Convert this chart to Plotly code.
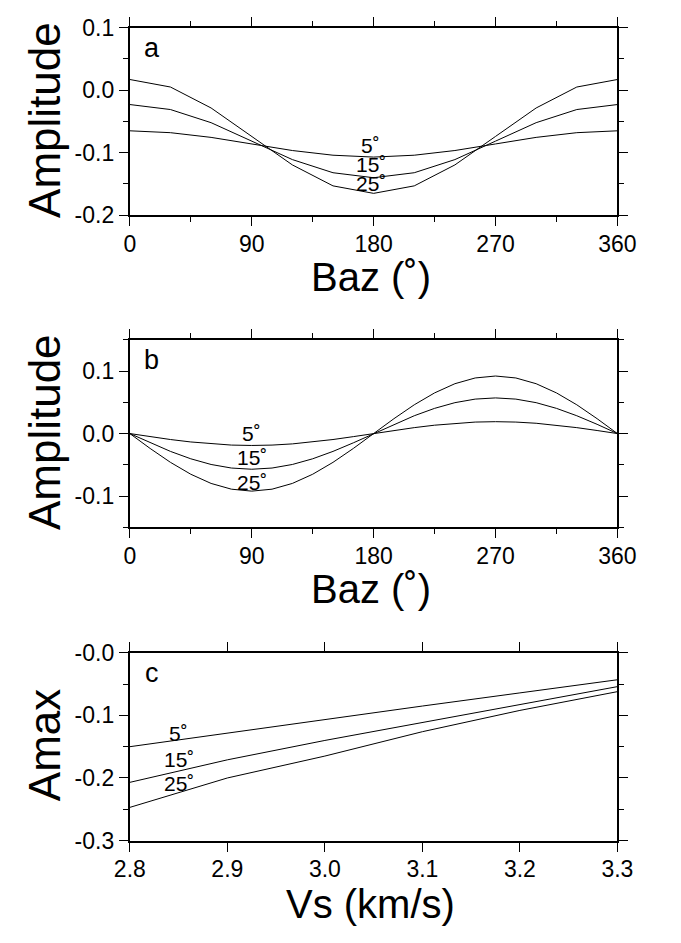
import plotly.graph_objects as go

# ---- data -------------------------------------------------------------
baz_a = [0, 30, 60, 90, 120, 150, 180, 210, 240, 270, 300, 330, 360]
amp_a_5 = [-0.065, -0.068, -0.0755, -0.086, -0.0965, -0.104, -0.107, -0.104, -0.0965, -0.086, -0.0755, -0.068, -0.065]
amp_a_15 = [-0.023, -0.031, -0.052, -0.0815, -0.111, -0.132, -0.140, -0.132, -0.111, -0.0815, -0.052, -0.031, -0.023]
amp_a_25 = [0.017, 0.005, -0.0285, -0.074, -0.1195, -0.153, -0.165, -0.153, -0.1195, -0.074, -0.0285, 0.005, 0.017]

baz_b = [0, 15, 30, 45, 60, 75, 90, 105, 120, 135, 150, 165, 180,
         195, 210, 225, 240, 255, 270, 285, 300, 315, 330, 345, 360]
amp_b_5 = [0, -0.0049, -0.0095, -0.0134, -0.0165, -0.0184, -0.019, -0.0184, -0.0165, -0.0134, -0.0095, -0.0049, 0,
           0.0049, 0.0095, 0.0134, 0.0165, 0.0184, 0.019, 0.0184, 0.0165, 0.0134, 0.0095, 0.0049, 0]
amp_b_15 = [0, -0.0148, -0.0285, -0.0403, -0.0494, -0.0551, -0.057, -0.0551, -0.0494, -0.0403, -0.0285, -0.0148, 0,
            0.0148, 0.0285, 0.0403, 0.0494, 0.0551, 0.057, 0.0551, 0.0494, 0.0403, 0.0285, 0.0148, 0]
amp_b_25 = [0, -0.0238, -0.046, -0.065, -0.0797, -0.0889, -0.092, -0.0889, -0.0797, -0.065, -0.046, -0.0238, 0,
            0.0238, 0.046, 0.065, 0.0797, 0.0889, 0.092, 0.0889, 0.0797, 0.065, 0.046, 0.0238, 0]

vs_c = [2.8, 2.9, 3.0, 3.1, 3.2, 3.3]
amax_5 = [-0.150, -0.128, -0.107, -0.085, -0.064, -0.043]
amax_15 = [-0.207, -0.171, -0.140, -0.111, -0.082, -0.054]
amax_25 = [-0.247, -0.200, -0.165, -0.126, -0.092, -0.062]

incidence_labels = ["5˚", "15˚", "25˚"]

baz_ticks = [0, 90, 180, 270, 360]
baz_ticktext = ["0", "90", "180", "270", "360"]
amp_a_ticks = [0.1, 0.0, -0.1, -0.2]
amp_a_ticktext = ["0.1", "0.0", "-0.1", "-0.2"]
amp_b_ticks = [0.1, 0.0, -0.1]
amp_b_ticktext = ["0.1", "0.0", "-0.1"]
vs_ticks = [2.8, 2.9, 3.0, 3.1, 3.2, 3.3]
vs_ticktext = ["2.8", "2.9", "3.0", "3.1", "3.2", "3.3"]
amax_ticks = [0.0, -0.1, -0.2, -0.3]
amax_ticktext = ["-0.0", "-0.1", "-0.2", "-0.3"]

# ---- page geometry (pixels) --------------------------------------------
W, H = 681, 943
FONT = "Liberation Sans, Arial, Helvetica, sans-serif"
LEFT, RIGHT = 120, 634
panels = [(15, 208), (336, 529), (658, 851)]


def px(x):
    return x / W


def py(y):
    return 1 - y / H


fig = go.Figure()
line = dict(color="black", width=1)

series = [
    ("x", "y", baz_a, [amp_a_5, amp_a_15, amp_a_25]),
    ("x2", "y2", baz_b, [amp_b_5, amp_b_15, amp_b_25]),
    ("x3", "y3", vs_c, [amax_5, amax_15, amax_25]),
]
for xa, ya, xs, ys_list in series:
    for ys in ys_list:
        fig.add_trace(go.Scatter(x=xs, y=ys, mode="lines", line=line,
                                 xaxis=xa, yaxis=ya, showlegend=False,
                                 hoverinfo="skip"))

tickfont = dict(family=FONT, size=23, color="black")


def minor(step):
    return dict(ticks="outside", ticklen=4.5, dtick=step, tick0=0,
                tickcolor="black", tickwidth=1)


def axis_style(**kw):
    base = dict(showline=True, linecolor="black", linewidth=2, mirror="allticks",
                ticks="outside", ticklen=9, tickwidth=1.3, tickcolor="black",
                showgrid=False, zeroline=False, tickfont=tickfont,
                fixedrange=True)
    base.update(kw)
    return base


dom_x = [px(LEFT), px(RIGHT)]
layout = dict(
    width=W, height=H, margin=dict(l=0, r=0, t=0, b=0),
    paper_bgcolor="white", plot_bgcolor="white",
    xaxis=axis_style(domain=dom_x, anchor="y", range=[0, 360], ticklabelstandoff=-2,
                     tickvals=baz_ticks, ticktext=baz_ticktext, minor=minor(45)),
    yaxis=axis_style(domain=[py(panels[0][1]), py(panels[0][0])], anchor="x", range=[-0.2, 0.1],
                     tickvals=amp_a_ticks, ticktext=amp_a_ticktext, minor=minor(0.05)),
    xaxis2=axis_style(domain=dom_x, anchor="y2", range=[0, 360], ticklabelstandoff=-2,
                      tickvals=baz_ticks, ticktext=baz_ticktext, minor=minor(45)),
    yaxis2=axis_style(domain=[py(panels[1][1]), py(panels[1][0])], anchor="x2", range=[-0.15, 0.15],
                      tickvals=amp_b_ticks, ticktext=amp_b_ticktext, minor=minor(0.05)),
    xaxis3=axis_style(domain=dom_x, anchor="y3", range=[2.8, 3.3], ticklabelstandoff=-2,
                      tickvals=vs_ticks, ticktext=vs_ticktext),
    yaxis3=axis_style(domain=[py(panels[2][1]), py(panels[2][0])], anchor="x3", range=[-0.3, 0.0],
                      tickvals=amax_ticks, ticktext=amax_ticktext, minor=minor(0.05)),
)
fig.update_layout(**layout)

ann = []
big = dict(family=FONT, size=40, color="black")
ylabel_font = dict(family=FONT, size=44, color="black")
small = dict(family=FONT, size=21, color="black")
letter_font = dict(family=FONT, size=27, color="black")

ytitles = ["Amplitude", "Amplitude", "Amax"]
xtitles = ["Baz (˚)", "Baz (˚)", "Vs (km/s)"]
title_gap = [39, 39, 41]
letters = ["a", "b", "c"]
for i, (top, bot) in enumerate(panels):
    ann.append(dict(text=ytitles[i], x=px(30), y=py((top + bot) / 2 - 2), xref="paper", yref="paper",
                    textangle=-90, showarrow=False, font=ylabel_font,
                    xanchor="center", yanchor="middle"))
    ann.append(dict(text=xtitles[i], x=px((LEFT + RIGHT) / 2 - 3), y=py(bot + title_gap[i]),
                    xref="paper", yref="paper",
                    showarrow=False, font=big, xanchor="center", yanchor="top"))
    ann.append(dict(text=letters[i], x=px(LEFT + 23), y=py(top + 21), xref="paper", yref="paper",
                    showarrow=False, font=letter_font, xanchor="center", yanchor="middle"))

# curve labels (data coordinates)
label_pos = [
    ("x", "y", [(178, -0.088), (178, -0.119), (178, -0.149)]),
    ("x2", "y2", [(90, 0.0), (90, -0.039), (90, -0.079)]),
    ("x3", "y3", [(2.85, -0.1287), (2.85, -0.170), (2.85, -0.209)]),
]
for xa, ya, pts in label_pos:
    for txt, (lx, ly) in zip(incidence_labels, pts):
        ann.append(dict(text=txt, x=lx, y=ly, xref=xa, yref=ya, showarrow=False,
                        font=small, xanchor="center", yanchor="middle"))

fig.update_layout(annotations=ann)
fig.write_html("out.html")
